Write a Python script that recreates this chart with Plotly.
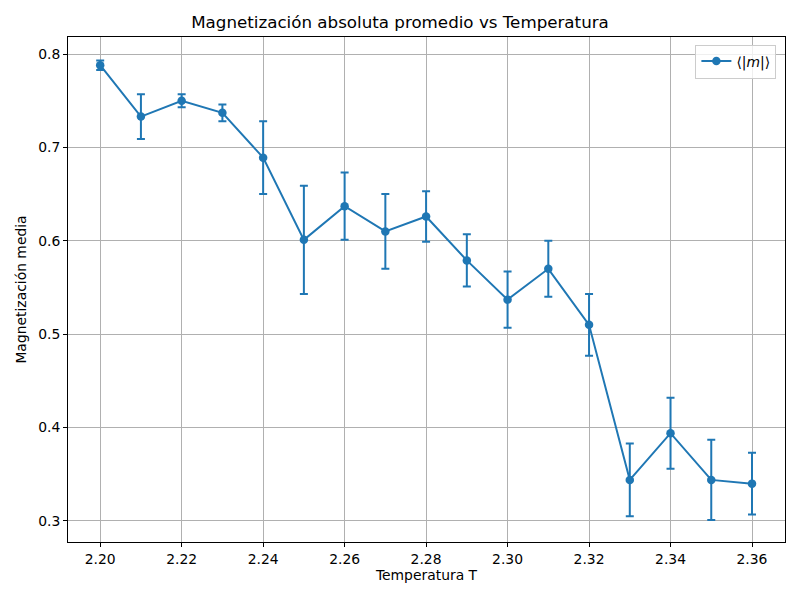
import plotly.graph_objects as go

temperaturas = [2.20, 2.21, 2.22, 2.23, 2.24, 2.25, 2.26, 2.27, 2.28,
                2.29, 2.30, 2.31, 2.32, 2.33, 2.34, 2.35, 2.36]
mag_media = [0.788, 0.733, 0.750, 0.737, 0.689, 0.601, 0.637, 0.610, 0.626,
             0.579, 0.537, 0.570, 0.510, 0.344, 0.394, 0.344, 0.340]
mag_error = [0.005, 0.024, 0.007, 0.009, 0.039, 0.058, 0.036, 0.040, 0.027,
             0.028, 0.030, 0.030, 0.033, 0.039, 0.038, 0.043, 0.033]

x_ticks = [2.20, 2.22, 2.24, 2.26, 2.28, 2.30, 2.32, 2.34, 2.36]
y_ticks = [0.3, 0.4, 0.5, 0.6, 0.7, 0.8]

azul = "#1f77b4"
fuente = dict(family="DejaVu Sans", size=13.9, color="black")

fig = go.Figure()
fig.add_trace(go.Scatter(
    x=temperaturas, y=mag_media,
    mode="lines+markers",
    name="⟨|<i>m</i>|⟩",
    line=dict(color=azul, width=2),
    marker=dict(color=azul, size=8.5),
    error_y=dict(type="data", array=mag_error, color=azul,
                 thickness=2, width=4),
))

eje = dict(showline=True, linecolor="black", linewidth=1, mirror=True,
           ticks="outside", ticklen=4, tickcolor="black",
           showgrid=True, gridcolor="#b0b0b0", gridwidth=1, zeroline=False,
           automargin=False, tickfont=fuente)

fig.update_layout(
    width=800, height=600,
    paper_bgcolor="white", plot_bgcolor="white",
    margin=dict(l=68, r=15, t=37, b=58),
    title=dict(text="Magnetización absoluta promedio vs Temperatura",
               x=0.5, xanchor="center", y=0.973, yanchor="top",
               font=dict(family="DejaVu Sans", size=16.7, color="black")),
    xaxis=dict(eje, range=[2.1921, 2.3681], tickvals=x_ticks,
               ticktext=[f"{v:.2f}" for v in x_ticks],
               title=dict(text="Temperatura T", standoff=4, font=fuente)),
    yaxis=dict(eje, range=[0.2775, 0.8182], tickvals=y_ticks,
               ticktext=[f"{v:.1f}" for v in y_ticks],
               title=dict(text="Magnetización media", standoff=8, font=fuente)),
    showlegend=True,
    legend=dict(x=0.988, y=0.985, xanchor="right", yanchor="top",
                bgcolor="rgba(255,255,255,0.8)", bordercolor="#cccccc",
                borderwidth=1, font=fuente),
)

fig.write_html("out.html", config={"displayModeBar": False},
               post_script="document.body.style.margin='0';")
